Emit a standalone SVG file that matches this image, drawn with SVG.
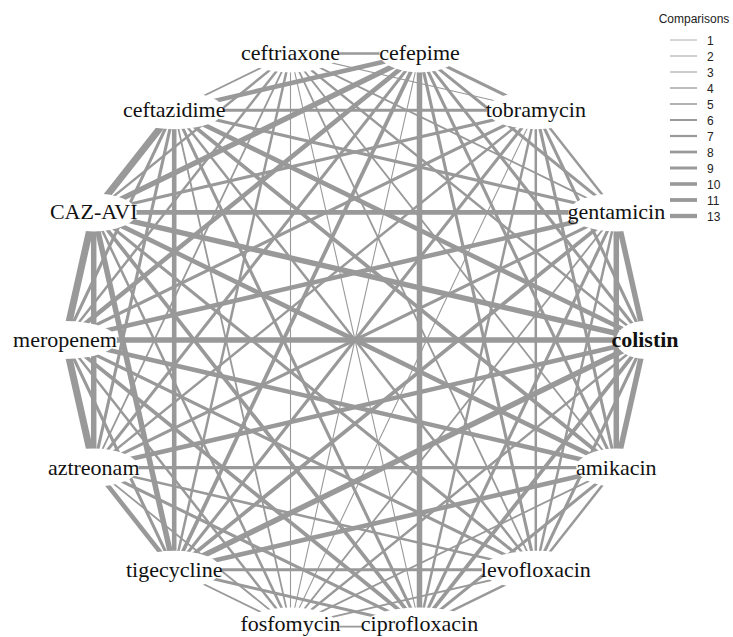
<svg xmlns="http://www.w3.org/2000/svg" width="733" height="637" viewBox="0 0 733 637">
<style>
#connectors line{stroke:#999;fill:none;stroke-linecap:butt}
.a{stroke-width:1.1}.b{stroke-width:1.8}.c{stroke-width:2.5}.d{stroke-width:3.1}.e{stroke-width:3.8}.f{stroke-width:4.6}.g{stroke-width:5.5}.h{stroke-width:7}
.lbl{font-family:"Liberation Serif","Times New Roman",serif;font-size:22px;fill:#111;text-anchor:middle}
.leg line{stroke:#999}
.leg text{font-family:"Liberation Sans",Arial,sans-serif;font-size:12px;fill:#222}
</style>
<defs>
<mask id="clip" maskUnits="userSpaceOnUse" x="0" y="0" width="733" height="637">
<rect x="0" y="0" width="733" height="637" fill="#fff"/>
<ellipse cx="645" cy="340" rx="29" ry="19" fill="#000"/>
<ellipse cx="616.3" cy="212.4" rx="48" ry="19" fill="#000"/>
<ellipse cx="535.8" cy="110.2" rx="49" ry="19" fill="#000"/>
<ellipse cx="419.5" cy="53.4" rx="40" ry="19" fill="#000"/>
<ellipse cx="290.5" cy="53.4" rx="49" ry="19" fill="#000"/>
<ellipse cx="174.2" cy="110.2" rx="50" ry="19" fill="#000"/>
<ellipse cx="93.7" cy="212.4" rx="43" ry="19" fill="#000"/>
<ellipse cx="65" cy="340" rx="52" ry="19" fill="#000"/>
<ellipse cx="93.7" cy="467.6" rx="45" ry="19" fill="#000"/>
<ellipse cx="174.2" cy="569.8" rx="47" ry="19" fill="#000"/>
<ellipse cx="290.5" cy="626.6" rx="49" ry="19" fill="#000"/>
<ellipse cx="419.5" cy="626.6" rx="57" ry="19" fill="#000"/>
<ellipse cx="535.8" cy="569.8" rx="54" ry="19" fill="#000"/>
<ellipse cx="616.3" cy="467.6" rx="40" ry="19" fill="#000"/>
</mask>
</defs>
<rect width="733" height="637" fill="#fff"/>
<g id="connectors" mask="url(#clip)">
<line class="g" x1="645" y1="340" x2="616.3" y2="212.4"/>
<line class="d" x1="645" y1="340" x2="535.8" y2="110.2"/>
<line class="d" x1="645" y1="340" x2="419.5" y2="53.4"/>
<line class="c" x1="645" y1="340" x2="290.5" y2="53.4"/>
<line class="f" x1="645" y1="340" x2="174.2" y2="110.2"/>
<line class="g" x1="645" y1="340" x2="93.7" y2="212.4"/>
<line class="g" x1="645" y1="340" x2="65" y2="340"/>
<line class="f" x1="645" y1="340" x2="93.7" y2="467.6"/>
<line class="g" x1="645" y1="340" x2="174.2" y2="569.8"/>
<line class="c" x1="645" y1="340" x2="290.5" y2="626.6"/>
<line class="e" x1="645" y1="340" x2="419.5" y2="626.6"/>
<line class="d" x1="645" y1="340" x2="535.8" y2="569.8"/>
<line class="g" x1="645" y1="340" x2="616.3" y2="467.6"/>
<line class="c" x1="616.3" y1="212.4" x2="535.8" y2="110.2"/>
<line class="d" x1="616.3" y1="212.4" x2="419.5" y2="53.4"/>
<line class="b" x1="616.3" y1="212.4" x2="290.5" y2="53.4"/>
<line class="d" x1="616.3" y1="212.4" x2="174.2" y2="110.2"/>
<line class="f" x1="616.3" y1="212.4" x2="93.7" y2="212.4"/>
<line class="f" x1="616.3" y1="212.4" x2="65" y2="340"/>
<line class="d" x1="616.3" y1="212.4" x2="93.7" y2="467.6"/>
<line class="e" x1="616.3" y1="212.4" x2="174.2" y2="569.8"/>
<line class="b" x1="616.3" y1="212.4" x2="290.5" y2="626.6"/>
<line class="d" x1="616.3" y1="212.4" x2="419.5" y2="626.6"/>
<line class="c" x1="616.3" y1="212.4" x2="535.8" y2="569.8"/>
<line class="g" x1="616.3" y1="212.4" x2="616.3" y2="467.6"/>
<line class="d" x1="535.8" y1="110.2" x2="419.5" y2="53.4"/>
<line class="a" x1="535.8" y1="110.2" x2="290.5" y2="53.4"/>
<line class="d" x1="535.8" y1="110.2" x2="174.2" y2="110.2"/>
<line class="d" x1="535.8" y1="110.2" x2="93.7" y2="212.4"/>
<line class="d" x1="535.8" y1="110.2" x2="65" y2="340"/>
<line class="c" x1="535.8" y1="110.2" x2="93.7" y2="467.6"/>
<line class="d" x1="535.8" y1="110.2" x2="174.2" y2="569.8"/>
<line class="a" x1="535.8" y1="110.2" x2="290.5" y2="626.6"/>
<line class="c" x1="535.8" y1="110.2" x2="419.5" y2="626.6"/>
<line class="c" x1="535.8" y1="110.2" x2="535.8" y2="569.8"/>
<line class="d" x1="535.8" y1="110.2" x2="616.3" y2="467.6"/>
<line class="c" x1="419.5" y1="53.4" x2="290.5" y2="53.4"/>
<line class="f" x1="419.5" y1="53.4" x2="174.2" y2="110.2"/>
<line class="g" x1="419.5" y1="53.4" x2="93.7" y2="212.4"/>
<line class="f" x1="419.5" y1="53.4" x2="65" y2="340"/>
<line class="d" x1="419.5" y1="53.4" x2="93.7" y2="467.6"/>
<line class="e" x1="419.5" y1="53.4" x2="174.2" y2="569.8"/>
<line class="a" x1="419.5" y1="53.4" x2="290.5" y2="626.6"/>
<line class="g" x1="419.5" y1="53.4" x2="419.5" y2="626.6"/>
<line class="d" x1="419.5" y1="53.4" x2="535.8" y2="569.8"/>
<line class="d" x1="419.5" y1="53.4" x2="616.3" y2="467.6"/>
<line class="b" x1="290.5" y1="53.4" x2="174.2" y2="110.2"/>
<line class="c" x1="290.5" y1="53.4" x2="93.7" y2="212.4"/>
<line class="c" x1="290.5" y1="53.4" x2="65" y2="340"/>
<line class="b" x1="290.5" y1="53.4" x2="93.7" y2="467.6"/>
<line class="c" x1="290.5" y1="53.4" x2="174.2" y2="569.8"/>
<line class="a" x1="290.5" y1="53.4" x2="290.5" y2="626.6"/>
<line class="a" x1="290.5" y1="53.4" x2="419.5" y2="626.6"/>
<line class="b" x1="290.5" y1="53.4" x2="535.8" y2="569.8"/>
<line class="b" x1="290.5" y1="53.4" x2="616.3" y2="467.6"/>
<line class="h" x1="174.2" y1="110.2" x2="93.7" y2="212.4"/>
<line class="d" x1="174.2" y1="110.2" x2="65" y2="340"/>
<line class="d" x1="174.2" y1="110.2" x2="93.7" y2="467.6"/>
<line class="f" x1="174.2" y1="110.2" x2="174.2" y2="569.8"/>
<line class="b" x1="174.2" y1="110.2" x2="290.5" y2="626.6"/>
<line class="d" x1="174.2" y1="110.2" x2="419.5" y2="626.6"/>
<line class="c" x1="174.2" y1="110.2" x2="535.8" y2="569.8"/>
<line class="e" x1="174.2" y1="110.2" x2="616.3" y2="467.6"/>
<line class="h" x1="93.7" y1="212.4" x2="65" y2="340"/>
<line class="g" x1="93.7" y1="212.4" x2="93.7" y2="467.6"/>
<line class="g" x1="93.7" y1="212.4" x2="174.2" y2="569.8"/>
<line class="c" x1="93.7" y1="212.4" x2="290.5" y2="626.6"/>
<line class="e" x1="93.7" y1="212.4" x2="419.5" y2="626.6"/>
<line class="d" x1="93.7" y1="212.4" x2="535.8" y2="569.8"/>
<line class="f" x1="93.7" y1="212.4" x2="616.3" y2="467.6"/>
<line class="h" x1="65" y1="340" x2="93.7" y2="467.6"/>
<line class="d" x1="65" y1="340" x2="174.2" y2="569.8"/>
<line class="c" x1="65" y1="340" x2="290.5" y2="626.6"/>
<line class="e" x1="65" y1="340" x2="419.5" y2="626.6"/>
<line class="d" x1="65" y1="340" x2="535.8" y2="569.8"/>
<line class="f" x1="65" y1="340" x2="616.3" y2="467.6"/>
<line class="f" x1="93.7" y1="467.6" x2="174.2" y2="569.8"/>
<line class="b" x1="93.7" y1="467.6" x2="290.5" y2="626.6"/>
<line class="d" x1="93.7" y1="467.6" x2="419.5" y2="626.6"/>
<line class="c" x1="93.7" y1="467.6" x2="535.8" y2="569.8"/>
<line class="d" x1="93.7" y1="467.6" x2="616.3" y2="467.6"/>
<line class="b" x1="174.2" y1="569.8" x2="290.5" y2="626.6"/>
<line class="d" x1="174.2" y1="569.8" x2="419.5" y2="626.6"/>
<line class="d" x1="174.2" y1="569.8" x2="535.8" y2="569.8"/>
<line class="f" x1="174.2" y1="569.8" x2="616.3" y2="467.6"/>
<line class="b" x1="290.5" y1="626.6" x2="419.5" y2="626.6"/>
<line class="b" x1="290.5" y1="626.6" x2="535.8" y2="569.8"/>
<line class="b" x1="290.5" y1="626.6" x2="616.3" y2="467.6"/>
<line class="c" x1="419.5" y1="626.6" x2="535.8" y2="569.8"/>
<line class="d" x1="419.5" y1="626.6" x2="616.3" y2="467.6"/>
<line class="c" x1="535.8" y1="569.8" x2="616.3" y2="467.6"/>
</g>
<g id="colistin"><text class="lbl" x="645" y="347" font-weight="bold">colistin</text></g>
<g id="gentamicin"><text class="lbl" x="616.3" y="219.4">gentamicin</text></g>
<g id="tobramycin"><text class="lbl" x="535.8" y="117.2">tobramycin</text></g>
<g id="cefepime"><text class="lbl" x="419.5" y="60.4">cefepime</text></g>
<g id="ceftriaxone"><text class="lbl" x="290.5" y="60.4">ceftriaxone</text></g>
<g id="ceftazidime"><text class="lbl" x="174.2" y="117.2">ceftazidime</text></g>
<g id="caz-avi"><text class="lbl" x="93.7" y="219.4">CAZ-AVI</text></g>
<g id="meropenem"><text class="lbl" x="65" y="347">meropenem</text></g>
<g id="aztreonam"><text class="lbl" x="93.7" y="474.6">aztreonam</text></g>
<g id="tigecycline"><text class="lbl" x="174.2" y="576.8">tigecycline</text></g>
<g id="fosfomycin"><text class="lbl" x="290.5" y="631">fosfomycin</text></g>
<g id="ciprofloxacin"><text class="lbl" x="419.5" y="631">ciprofloxacin</text></g>
<g id="levofloxacin"><text class="lbl" x="535.8" y="576.8">levofloxacin</text></g>
<g id="amikacin"><text class="lbl" x="616.3" y="474.6">amikacin</text></g>
<g id="legend" class="leg">
<text x="694" y="23" text-anchor="middle">Comparisons</text>
<line x1="670" y1="40" x2="697" y2="40" stroke-width="0.8"/><text x="707" y="45">1</text>
<line x1="670" y1="56" x2="697" y2="56" stroke-width="0.9"/><text x="707" y="61">2</text>
<line x1="670" y1="72" x2="697" y2="72" stroke-width="1"/><text x="707" y="77">3</text>
<line x1="670" y1="88" x2="697" y2="88" stroke-width="1.3"/><text x="707" y="93">4</text>
<line x1="670" y1="104" x2="697" y2="104" stroke-width="1.5"/><text x="707" y="109">5</text>
<line x1="670" y1="120" x2="697" y2="120" stroke-width="2"/><text x="707" y="125">6</text>
<line x1="670" y1="136" x2="697" y2="136" stroke-width="2.2"/><text x="707" y="141">7</text>
<line x1="670" y1="152" x2="697" y2="152" stroke-width="2.7"/><text x="707" y="157">8</text>
<line x1="670" y1="168" x2="697" y2="168" stroke-width="3"/><text x="707" y="173">9</text>
<line x1="670" y1="184" x2="697" y2="184" stroke-width="3.6"/><text x="707" y="189">10</text>
<line x1="670" y1="200" x2="697" y2="200" stroke-width="3.8"/><text x="707" y="205">11</text>
<line x1="670" y1="216" x2="697" y2="216" stroke-width="4.3"/><text x="707" y="221">13</text>
</g>
</svg>
